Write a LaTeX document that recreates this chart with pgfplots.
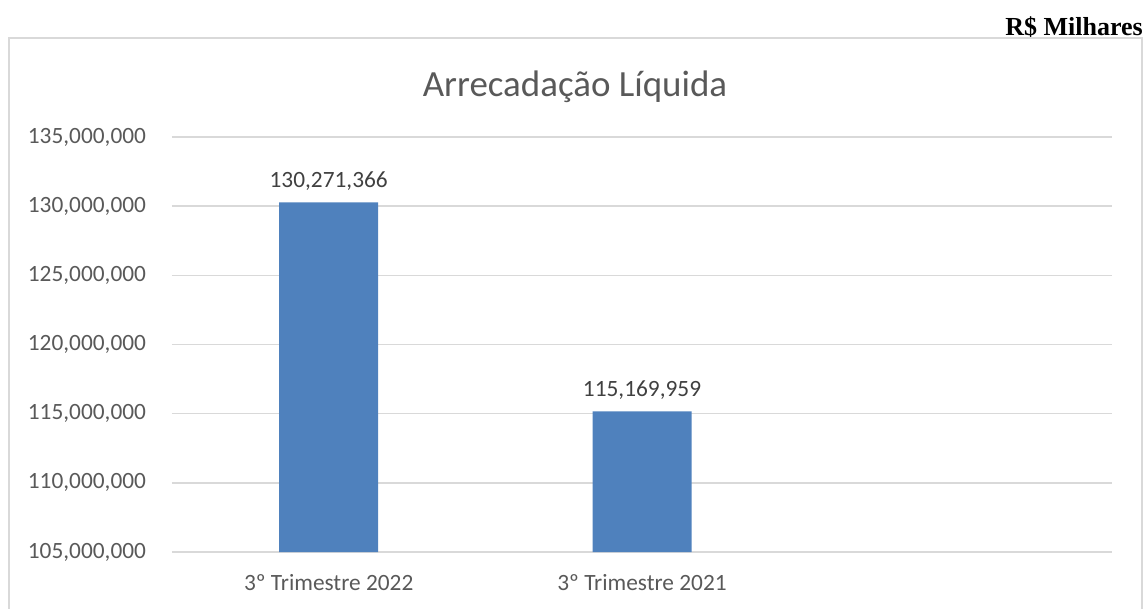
\documentclass[border=0pt]{standalone}
\usepackage{pgfplots}
\pgfplotsset{compat=1.18}
\usepackage{fontspec}
\setmainfont{Carlito}
\newfontfamily\timesfont{Liberation Serif}
\definecolor{barblue}{HTML}{4F81BD}
\definecolor{gridgray}{HTML}{D9D9D9}
\definecolor{txtgray}{HTML}{595959}
\definecolor{lbl}{HTML}{404040}
\begin{document}
\begin{tikzpicture}
\useasboundingbox (0,0) rectangle (860.25pt,456pt);
\clip (0,0) rectangle (860.25pt,456pt);
% chart border
\draw[gridgray, line width=1.1pt] (6.75pt,-5pt) rectangle (856.5pt,427.5pt);
\begin{axis}[
  at={(129pt,42pt)}, anchor=south west,
  scale only axis, width=705pt, height=311.25pt,
  xmin=-0.5, xmax=2.5, ymin=105000000, ymax=135000000,
  xtick={0,1}, xticklabels={3º Trimestre 2022, 3º Trimestre 2021},
  ytick={105000000,110000000,115000000,120000000,125000000,130000000,135000000},
  scaled y ticks=false,
  /pgf/number format/.cd, fixed, precision=0, 1000 sep={,}, assume math mode=true, /pgfplots/.cd,
  ymajorgrids, grid style={gridgray, line width=1.2pt},
  axis line style={draw=none},
  major tick length=0pt,
  tick label style={font=\fontsize{17.5}{20}\selectfont, text=txtgray},
  yticklabel style={xshift=-16pt},
  xticklabel style={yshift=-13.5pt},
  ybar, bar width=74.25pt,
  nodes near coords,
  every node near coord/.append style={font=\fontsize{17.5}{20}\selectfont, text=lbl, yshift=5.5pt},
]
\addplot[fill=barblue, draw=none] coordinates {(0,130271366) (1,115169959)};
\end{axis}
\node[font=\fontsize{27.7}{32}\selectfont, text=txtgray] at (431.25pt,390.75pt) {Arrecadação Líquida};
\node[anchor=east, font=\timesfont\bfseries\fontsize{19.5}{22}\selectfont, inner sep=0pt] at (857.25pt,435.75pt) {R\$ Milhares};
\end{tikzpicture}
\end{document}
